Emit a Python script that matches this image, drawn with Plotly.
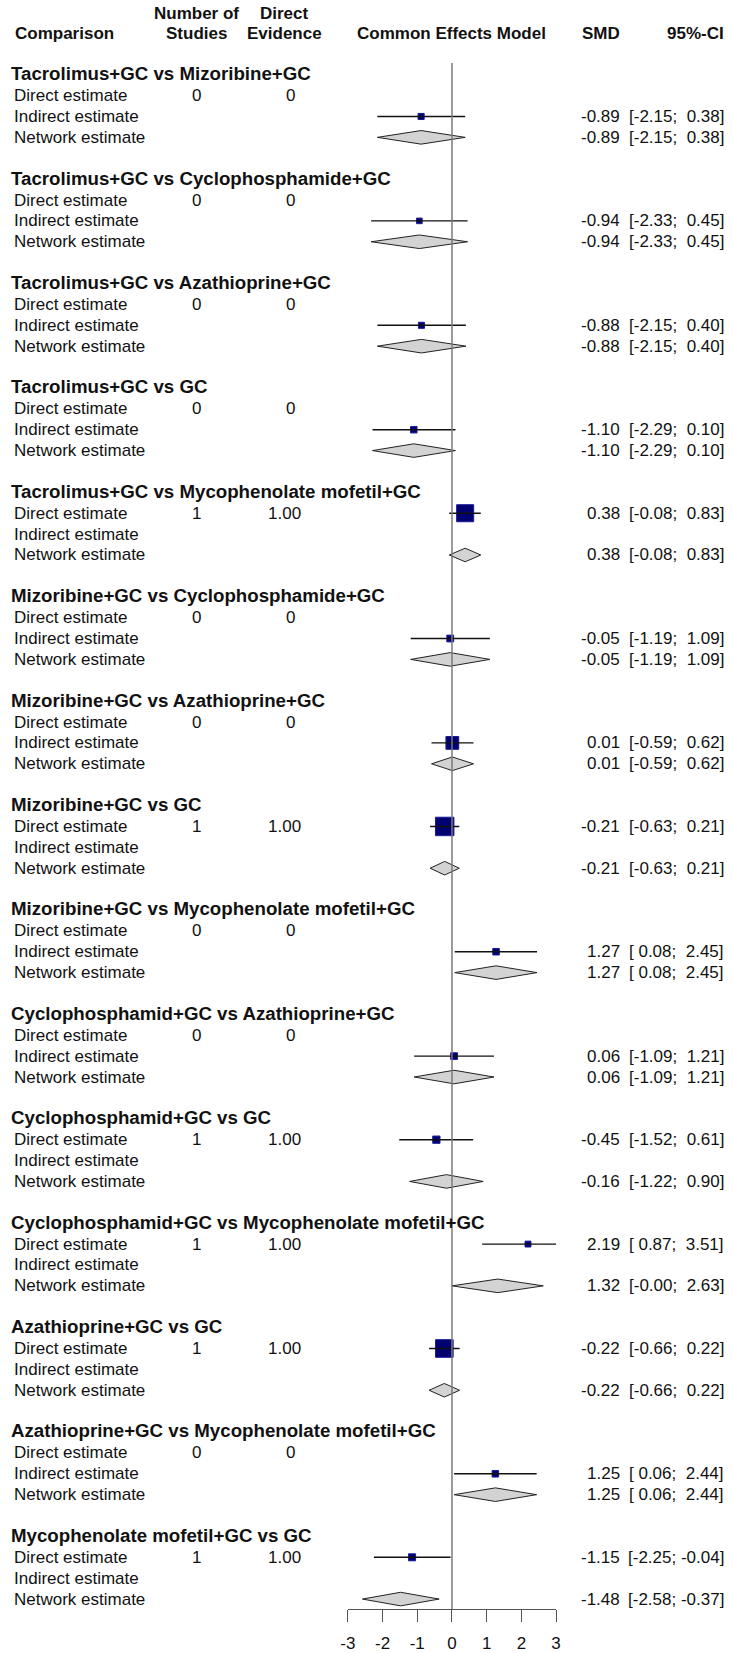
import plotly.graph_objects as go

# ---------------- data ----------------
comparisons = [
    "Tacrolimus+GC vs Mizoribine+GC",
    "Tacrolimus+GC vs Cyclophosphamide+GC",
    "Tacrolimus+GC vs Azathioprine+GC",
    "Tacrolimus+GC vs GC",
    "Tacrolimus+GC vs Mycophenolate mofetil+GC",
    "Mizoribine+GC vs Cyclophosphamide+GC",
    "Mizoribine+GC vs Azathioprine+GC",
    "Mizoribine+GC vs GC",
    "Mizoribine+GC vs Mycophenolate mofetil+GC",
    "Cyclophosphamid+GC vs Azathioprine+GC",
    "Cyclophosphamid+GC vs GC",
    "Cyclophosphamid+GC vs Mycophenolate mofetil+GC",
    "Azathioprine+GC vs GC",
    "Azathioprine+GC vs Mycophenolate mofetil+GC",
    "Mycophenolate mofetil+GC vs GC",
]
n_studies = ["0", "0", "0", "0", "1", "0", "0", "1", "0", "0", "1", "1", "1", "0", "1"]
direct_evidence = ["0", "0", "0", "0", "1.00", "0", "0", "1.00", "0", "0", "1.00", "1.00", "1.00", "0", "1.00"]

direct_smd = [None, None, None, None, 0.38, None, None, -0.21, None, None, -0.45, 2.19, -0.22, None, -1.15]
direct_lo  = [None, None, None, None, -0.08, None, None, -0.63, None, None, -1.52, 0.87, -0.66, None, -2.25]
direct_hi  = [None, None, None, None, 0.83, None, None, 0.21, None, None, 0.61, 3.51, 0.22, None, -0.04]

indirect_smd = [-0.89, -0.94, -0.88, -1.10, None, -0.05, 0.01, None, 1.27, 0.06, None, None, None, 1.25, None]
indirect_lo  = [-2.15, -2.33, -2.15, -2.29, None, -1.19, -0.59, None, 0.08, -1.09, None, None, None, 0.06, None]
indirect_hi  = [0.38, 0.45, 0.40, 0.10, None, 1.09, 0.62, None, 2.45, 1.21, None, None, None, 2.44, None]

network_smd = [-0.89, -0.94, -0.88, -1.10, 0.38, -0.05, 0.01, -0.21, 1.27, 0.06, -0.16, 1.32, -0.22, 1.25, -1.48]
network_lo  = [-2.15, -2.33, -2.15, -2.29, -0.08, -1.19, -0.59, -0.63, 0.08, -1.09, -1.22, -0.0, -0.66, 0.06, -2.58]
network_hi  = [0.38, 0.45, 0.40, 0.10, 0.83, 1.09, 0.62, 0.21, 2.45, 1.21, 0.90, 2.63, 0.22, 2.44, -0.37]

row_labels = ["Direct estimate", "Indirect estimate", "Network estimate"]
header_cols = ["Comparison", "Number of", "Studies", "Direct", "Evidence",
               "Common Effects Model", "SMD", "95%-CI"]
tick_vals = [-3, -2, -1, 0, 1, 2, 3]
tick_text = ["-3", "-2", "-1", "0", "1", "2", "3"]

# ---------------- layout helpers ----------------
W, H = 733, 1653
ROW_PX = 20.907
Y0_PX = 74.8          # pixel centre of row 0
FONT = "Liberation Sans, Arial, sans-serif"
TXT = "#111111"


def px(x):
    return x / W


def fmt(v):
    return f"{v:.2f}"


def fmt_ci(lo, hi):
    return f"[{lo:5.2f}; {hi:5.2f}]".replace(" ", "\u00a0")


ann = []


def add_text(text, xpx, row, anchor="left", size=17, bold=False, xshift=0):
    ann.append(dict(
        text=f"<b>{text}</b>" if bold else text,
        x=px(xpx), xref="paper", y=row, yref="y",
        xanchor=anchor, yanchor="middle", showarrow=False,
        borderpad=0, xshift=xshift,
        font=dict(family=FONT, size=size, color=TXT),
    ))


# header
add_text(header_cols[0], 6, -1.99, "left", 17, True)
add_text(header_cols[1], 191.7, -2.94, "center", 17, True)
add_text(header_cols[2], 191.7, -1.99, "center", 17, True)
add_text(header_cols[3], 282, -2.94, "center", 17, True)
add_text(header_cols[4], 282, -1.99, "center", 17, True)
add_text(header_cols[5], 452, -1.99, "center", 17, True)
add_text(header_cols[6], 624, -1.99, "right", 17, True)
add_text(header_cols[7], 730, -1.99, "right", 17, True)

sq_x, sq_y, sq_s = [], [], []
ci_x, ci_y = [], []
dm_x, dm_y = [], []
DH = 6.8 / ROW_PX     # diamond half-height in row units

for k, name in enumerate(comparisons):
    r0 = 5 * k
    add_text(name, 2.5, r0 - 0.05, "left", 18.7, True)
    for j, lab in enumerate(row_labels):
        add_text(lab, 5, r0 + 1 + j, "left", 17)
    add_text(n_studies[k], 191.7, r0 + 1, "center", 17)
    add_text(direct_evidence[k], 282, r0 + 1, "center", 17,
             xshift=6 if direct_evidence[k] == "0" else 0)

    for j, (s, lo, hi) in enumerate([(direct_smd[k], direct_lo[k], direct_hi[k]),
                                     (indirect_smd[k], indirect_lo[k], indirect_hi[k])]):
        if s is None:
            continue
        r = r0 + 1 + j
        sq_x.append(s)
        sq_y.append(r)
        sq_s.append(15.5 / (hi - lo))
        ci_x += [lo, hi, None]
        ci_y += [r, r, None]
        add_text(fmt(s), 624, r, "right", 17)
        add_text(fmt_ci(lo, hi), 730, r, "right", 17)

    r = r0 + 3
    s, lo, hi = network_smd[k], network_lo[k], network_hi[k]
    dm_x += [lo, s, hi, s, lo, None]
    dm_y += [r, r - DH, r, r + DH, r, None]
    add_text(fmt(s), 624, r, "right", 17)
    add_text(fmt_ci(lo, hi), 730, r, "right", 17)

n_rows_last = 5 * (len(comparisons) - 1) + 3
axis_row = n_rows_last + 0.48
y_top = -Y0_PX / ROW_PX
y_bot = (H - Y0_PX) / ROW_PX
axis_pos = (H - (Y0_PX + axis_row * ROW_PX)) / H

fig = go.Figure()
fig.add_trace(go.Scatter(
    x=dm_x, y=dm_y, mode="lines", fill="toself", fillcolor="#d3d3d3",
    line=dict(color="#222222", width=1), hoverinfo="skip", showlegend=False))
fig.add_trace(go.Scatter(
    x=sq_x, y=sq_y, mode="markers",
    marker=dict(symbol="square", size=sq_s, color="#000070", opacity=1,
                line=dict(color="#1a1a9a", width=1)),
    opacity=1, hoverinfo="skip", showlegend=False))
fig.add_trace(go.Scatter(
    x=ci_x, y=ci_y, mode="lines", line=dict(color="#111111", width=1.4),
    hoverinfo="skip", showlegend=False))
fig.add_trace(go.Scatter(
    x=[0, 0], y=[-0.56, axis_row], mode="lines",
    line=dict(color="#7a7a7a", width=1.5), hoverinfo="skip", showlegend=False))

fig.update_traces(cliponaxis=False)

fig.update_layout(
    width=W, height=H, margin=dict(l=0, r=0, t=0, b=0),
    paper_bgcolor="white", plot_bgcolor="white",
    showlegend=False, annotations=ann,
    xaxis=dict(domain=[346 / W, 558 / W], range=[-3, 3], anchor="free",
               position=axis_pos, showgrid=False, zeroline=False,
               showline=True, linecolor="#555555", linewidth=1.3,
               ticks="outside", ticklen=12, tickwidth=1.3, tickcolor="#555555",
               tickvals=tick_vals, ticktext=tick_text, ticklabelstandoff=6,
               tickfont=dict(family=FONT, size=17, color=TXT), fixedrange=True),
    yaxis=dict(domain=[0, 1], range=[y_bot, y_top], visible=False,
               showgrid=False, zeroline=False, fixedrange=True),
)

fig.write_html("out.html")
